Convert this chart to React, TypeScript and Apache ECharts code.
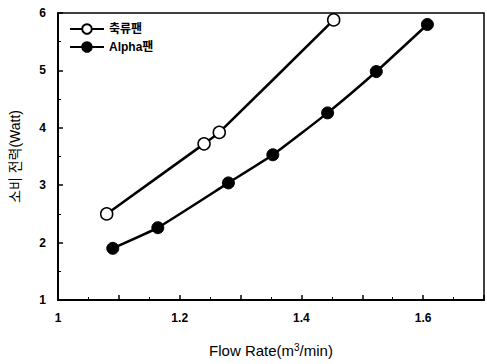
import React, { useEffect, useRef } from "react";
import * as echarts from "echarts";

const seriesNames = ["축류팬", "Alpha팬"];
const axialX = [1.08, 1.24, 1.265, 1.453];
const axialY = [2.5, 3.72, 3.92, 5.88];
const alphaX = [1.09, 1.164, 1.28, 1.353, 1.443, 1.523, 1.607];
const alphaY = [1.9, 2.26, 3.04, 3.53, 4.26, 4.98, 5.8];
const xName = "Flow Rate(m{sup|3}/min)";
const yName = "소비 전력(Watt)";

const font = "Arial, 'Liberation Sans', 'Noto Sans CJK KR', sans-serif";

export default function App() {
  const ref = useRef<HTMLDivElement>(null);
  useEffect(() => {
    if (!ref.current) return;
    const chart = echarts.init(ref.current, null, { renderer: "svg" });
    const zip = (xs: number[], ys: number[]) => xs.map((x, i) => [x, ys[i]]);
    chart.setOption({
      animation: false,
      backgroundColor: "#fff",
      grid: {
        left: 58,
        right: 3,
        top: 13,
        bottom: 64,
        show: true,
        borderColor: "#000",
        borderWidth: 1.5,
      },
      legend: {
        left: 64,
        top: 18,
        orient: "vertical",
        itemGap: 6,
        itemWidth: 34,
        itemHeight: 12,
        textStyle: { fontFamily: font, fontWeight: "bold", fontSize: 12, color: "#000" },
        data: seriesNames,
      },
      xAxis: {
        type: "value",
        min: 1,
        max: 1.7,
        interval: 0.1,
        name: xName,
        nameLocation: "middle",
        nameGap: 42,
        nameTextStyle: {
          fontFamily: font,
          fontSize: 15,
          color: "#000",
          rich: {
            sup: { fontFamily: font, fontSize: 10, color: "#000", verticalAlign: "top", padding: [0, 0, 6, 0] },
          },
        },
        axisLine: { lineStyle: { color: "#000", width: 2 } },
        axisTick: { inside: true, length: 5, lineStyle: { color: "#000", width: 1.5 } },
        minorTick: { show: true, splitNumber: 2, length: 3, lineStyle: { color: "#000" } },
        splitLine: { show: false },
        axisLabel: {
          fontFamily: font,
          fontWeight: "bold",
          fontSize: 12,
          color: "#000",
          margin: 12,
          formatter: (v: number) => {
            const k = Math.round(v * 10);
            return k % 2 === 0 && k < 17 ? String(k / 10) : "";
          },
        },
      },
      yAxis: {
        type: "value",
        min: 1,
        max: 6,
        interval: 1,
        name: yName,
        nameLocation: "middle",
        nameGap: 36,
        nameTextStyle: { fontFamily: font, fontSize: 14, color: "#000" },
        axisLine: { lineStyle: { color: "#000", width: 2 } },
        axisTick: { inside: true, length: 5, lineStyle: { color: "#000", width: 1.5 } },
        minorTick: { show: true, splitNumber: 2, length: 3, lineStyle: { color: "#000" } },
        splitLine: { show: false },
        axisLabel: {
          fontFamily: font,
          fontWeight: "bold",
          fontSize: 12,
          color: "#000",
          margin: 12,
        },
      },
      series: [
        {
          name: seriesNames[0],
          type: "line",
          data: zip(axialX, axialY),
          symbol: "circle",
          symbolSize: 12,
          smooth: 0.15,
          lineStyle: { color: "#000", width: 2.5 },
          itemStyle: { color: "#fff", borderColor: "#000", borderWidth: 1.5 },
        },
        {
          name: seriesNames[1],
          type: "line",
          data: zip(alphaX, alphaY),
          symbol: "circle",
          symbolSize: 12,
          smooth: 0.15,
          lineStyle: { color: "#000", width: 2.5 },
          itemStyle: { color: "#000", borderColor: "#000", borderWidth: 1 },
        },
      ],
    });
    return () => chart.dispose();
  }, []);
  return (
    <div
      ref={ref}
      style={{ position: "fixed", left: 0, top: 0, width: 487, height: 364, background: "#fff" }}
    />
  );
}
